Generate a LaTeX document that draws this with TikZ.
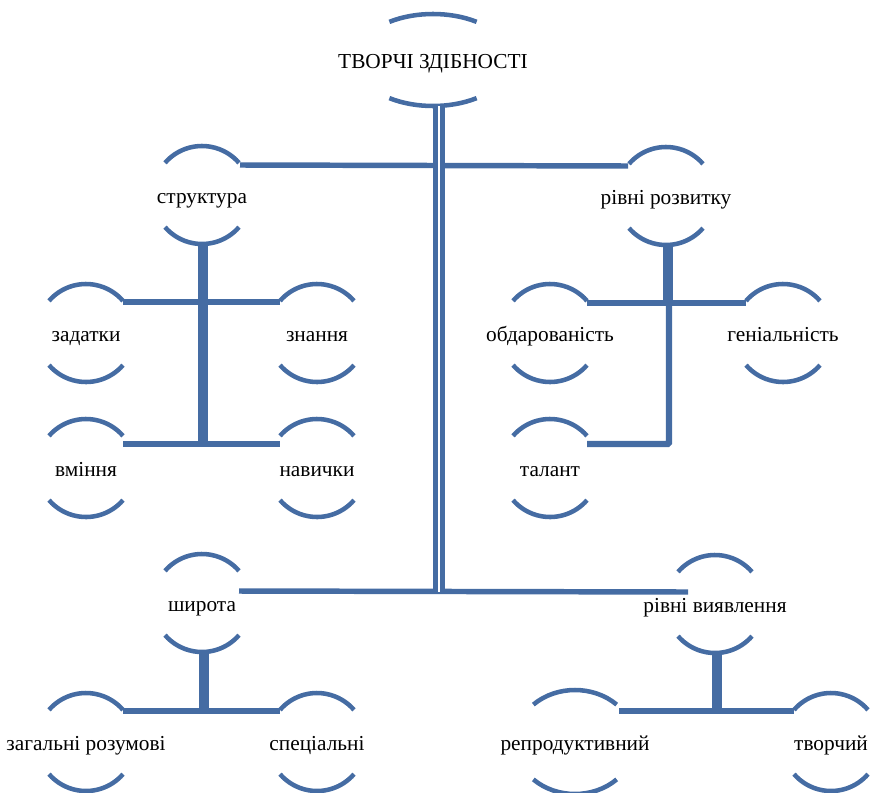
\documentclass[tikz,border=0pt]{standalone}
\usepackage{fontspec}
\setmainfont{Liberation Serif}
\newfontfamily\labelfont{Liberation Serif}
\usepackage{tikz}
\usetikzlibrary{calc, positioning}
\definecolor{smartblue}{RGB}{69,108,163}

% pair of arcs round a label: node, angle, x radius, y radius
\newcommand\arcpair[4]{%
  \draw[arcline] ([shift={(#2:#3 and #4)}]#1.center)
    arc[start angle=#2, end angle=180-#2, x radius=#3, y radius=#4];
  \draw[arcline] ([shift={(180+#2:#3 and #4)}]#1.center)
    arc[start angle=180+#2, end angle=360-#2, x radius=#3, y radius=#4];}
\newcommand\arcs[1]{\arcpair{#1}{41}{49}{49}}

\begin{document}
\begin{tikzpicture}[x=0.75pt, y=-0.75pt,
  every node/.style={align=center, inner sep=0pt, text height=13.3pt, text depth=0pt,
    font=\labelfont\fontsize{16}{19}\selectfont},
  arcline/.style={smartblue, line width=3.4pt},
  link/.style={smartblue, line width=4.1pt},
  bar/.style={smartblue, line width=7pt},
  trunk/.style={smartblue, line width=3.7pt, double=white, double distance=1.5pt}]
\useasboundingbox (0,0) rectangle (880,792);

\node (top) [text height=12.1pt] at (433,60) {ТВОРЧІ ЗДІБНОСТІ};
\node (strukt) at (202,195) {структура};
\node (rozv) at (666,196) {рівні розвитку};
\node (zadatky) at (86,333) {задатки};
\node (znannia) at (317,333) {знання};
\node (vminnia) at (86,468) {вміння};
\node (navychky) at (317,468) {навички};
\node (obdar) at (550,333) {обдарованість};
\node (genial) at (783,333) {геніальність};
\node (talant) at (550,468) {талант};
\node (shyrota) at (202,603) {широта};
\node (vyiav) at (715,604) {рівні виявлення};
\node (zagal) at (86,742) {загальні розумові};
\node (spets) at (317,742) {спеціальні};
\node (reprod) at (575,742) {репродуктивний};
\node (tvorchyi) at (831,742) {творчий};

\arcpair{top}{56}{78}{46}
\arcpair{reprod}{46}{60}{52}
\arcs{strukt} \arcs{rozv}
\arcs{zadatky} \arcs{znannia} \arcs{vminnia} \arcs{navychky}
\arcs{obdar} \arcs{genial} \arcs{talant}
\arcs{shyrota} \arcs{vyiav}
\arcs{zagal} \arcs{spets} \arcs{tvorchyi}

\draw[link] ([shift={(38,-30)}]strukt.center) -- ([shift={(-38,-30)}]rozv.center);
\draw[link] ([shift={(37,-12)}]shyrota.center) -- ([shift={(-27,-12)}]vyiav.center);
\draw[trunk] ([shift={(6,46)}]top.center) -- ([shift={(6,532)}]top.center);

\draw[bar] ([shift={(1,47)}]strukt.center) -- ([shift={(1,249)}]strukt.center);
\draw[link] ([shift={(37,-31)}]zadatky.center) -- ([shift={(-37,-31)}]znannia.center);
\draw[link] ([shift={(37,-24)}]vminnia.center) -- ([shift={(-37,-24)}]navychky.center);

\draw[bar] ([shift={(2,47)}]rozv.center) -- ([shift={(2,107)}]rozv.center);
\draw[link] ([shift={(37,-30)}]obdar.center) -- ([shift={(-37,-30)}]genial.center);
\draw[link, line width=4.8pt, rounded corners=1pt] ([shift={(119,-30)}]obdar.center)
  -- ([shift={(119,-24)}]talant.center) -- ([shift={(37,-24)}]talant.center);

\draw[bar] ([shift={(2,47)}]shyrota.center) -- ([shift={(2,108)}]shyrota.center);
\draw[link] ([shift={(37,-31)}]zagal.center) -- ([shift={(-37,-31)}]spets.center);
\draw[bar] ([shift={(2,47)}]vyiav.center) -- ([shift={(2,107)}]vyiav.center);
\draw[link] ([shift={(44,-31)}]reprod.center) -- ([shift={(-37,-31)}]tvorchyi.center);
\end{tikzpicture}
\end{document}
